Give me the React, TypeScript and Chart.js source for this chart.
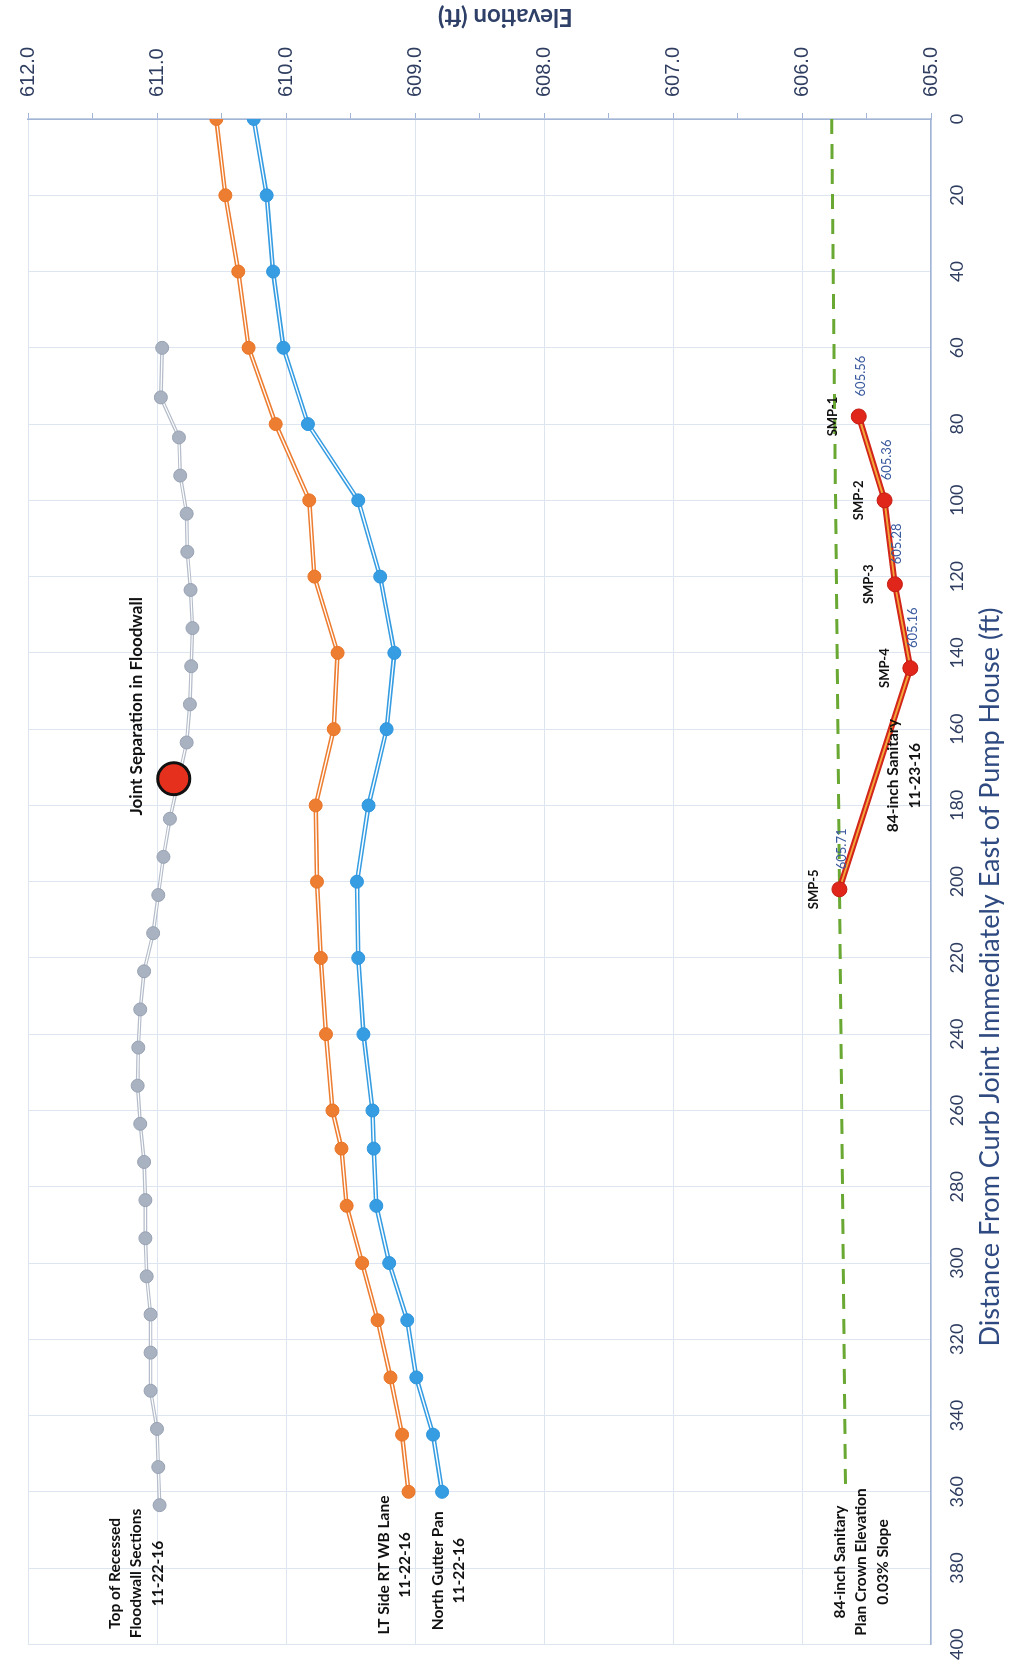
import React, { useEffect, useRef } from 'react';
import { Chart, registerables } from 'chart.js';

Chart.register(...registerables);

// ---------- data (distance in ft, elevation in ft) ----------
const DIST_MAIN = [0, 20, 40, 60, 80, 100, 120, 140, 160, 180, 200, 220, 240, 260, 270, 285, 300, 315, 330, 345, 360];
const LT_SIDE_RT_WB = [610.54, 610.47, 610.37, 610.29, 610.08, 609.82, 609.78, 609.6, 609.63, 609.77, 609.76, 609.73, 609.69, 609.64, 609.57, 609.53, 609.41, 609.29, 609.19, 609.1, 609.05];
const NORTH_GUTTER = [610.25, 610.15, 610.1, 610.02, 609.83, 609.44, 609.27, 609.16, 609.22, 609.36, 609.45, 609.44, 609.4, 609.33, 609.32, 609.3, 609.2, 609.06, 608.99, 608.86, 608.79];

const DIST_FLOODWALL = [60, 73, 83.5, 93.5, 103.5, 113.5, 123.5, 133.5, 143.5, 153.5, 163.5, 183.5, 193.5, 203.5, 213.5, 223.5, 233.5, 243.5, 253.5, 263.5, 273.5, 283.5, 293.5, 303.5, 313.5, 323.5, 333.5, 343.5, 353.5, 363.5];
const FLOODWALL_TOP = [610.96, 610.97, 610.83, 610.82, 610.77, 610.765, 610.74, 610.725, 610.735, 610.745, 610.77, 610.9, 610.95, 610.99, 611.03, 611.1, 611.13, 611.145, 611.15, 611.13, 611.1, 611.09, 611.09, 611.08, 611.05, 611.05, 611.05, 611.0, 610.99, 610.98];

const DIST_SMP = [78, 100, 122, 144, 202];
const SMP_ELEV = [605.56, 605.36, 605.28, 605.16, 605.71];
const SMP_NAMES = ['SMP-1', 'SMP-2', 'SMP-3', 'SMP-4', 'SMP-5'];

const DIST_PLAN = [0, 360];
const PLAN_CROWN = [605.77, 605.662];

const DIST_JOINT = [173];
const JOINT_ELEV = [610.87];

const X_TITLE = 'Distance From Curb Joint Immediately East of Pump House (ft)';
const Y_TITLE = 'Elevation (ft)';

// text annotations: anchor (distance, elevation) of the block centre
const ANNOTATIONS = [
  { d: 381.4, e: 611.16, size: 15.5, lines: ['Top of Recessed', 'Floodwall Sections', '11-22-16'] },
  { d: 379.2, e: 609.16, size: 15.5, lines: ['LT Side RT WB Lane', '11-22-16'] },
  { d: 380.7, e: 608.74, size: 15.5, lines: ['North Gutter Pan', '11-22-16'] },
  { d: 378.4, e: 605.54, size: 15.5, lines: ['84-inch Sanitary', 'Plan Crown Elevation', '0.03% Slope'] },
  { d: 154, e: 611.155, size: 17, lines: ['Joint Separation in Floodwall'] },
  { d: 172.2, e: 605.21, size: 15.5, lines: ['84-inch Sanitary', '11-23-16'] },
];

const W = 1675;
const H = 1016;

const pts = (xs: number[], ys: number[]) => xs.map((x, i) => ({ x, y: ys[i] }));

const lineSet = (data: any, color: string, width: number, order: number, dash: number[] = []) => ({
  data,
  showLine: true,
  borderColor: color,
  backgroundColor: color,
  borderWidth: width,
  borderDash: dash,
  pointRadius: 0,
  pointHoverRadius: 0,
  tension: 0,
  fill: false,
  order,
});

const pointSet = (data: any, fill: string, border: string, r: number, order: number, bw = 1) => ({
  data,
  showLine: false,
  pointRadius: r,
  pointHoverRadius: r,
  pointBackgroundColor: fill,
  pointBorderColor: border,
  pointBorderWidth: bw,
  backgroundColor: fill,
  borderColor: border,
  order,
});

const labelPlugin = {
  id: 'textLabels',
  afterDatasetsDraw(chart: any) {
    const { ctx, scales } = chart;
    const x = scales.x;
    const y = scales.y;
    ctx.save();
    // SMP names and values
    DIST_SMP.forEach((d, i) => {
      const px = x.getPixelForValue(d);
      const py = y.getPixelForValue(SMP_ELEV[i]);
      ctx.font = 'bold 13px Lato';
      ctx.fillStyle = '#111111';
      ctx.textAlign = 'center';
      ctx.textBaseline = 'middle';
      ctx.fillText(SMP_NAMES[i], px, py - 26);
      ctx.font = '13px Lato';
      ctx.fillStyle = '#3a5a9e';
      ctx.textAlign = 'left';
      ctx.fillText(SMP_ELEV[i].toFixed(2), px + 20, py + 2);
    });
    // annotations
    ANNOTATIONS.forEach((a) => {
      const cx = x.getPixelForValue(a.d);
      const cy = y.getPixelForValue(a.e);
      const n = a.lines.length;
      const lh = 21.5;
      ctx.font = `bold ${a.size}px Lato`;
      ctx.fillStyle = '#111111';
      ctx.textAlign = 'center';
      ctx.textBaseline = 'middle';
      a.lines.forEach((t, k) => ctx.fillText(t, cx, cy + (k - (n - 1) / 2) * lh));
    });
    // distance axis title
    ctx.font = '27px Lato';
    ctx.fillStyle = '#2f4a80';
    ctx.textAlign = 'center';
    ctx.textBaseline = 'middle';
    ctx.fillText(X_TITLE, x.getPixelForValue(225), 990);
    // elevation axis title (rotated like the original)
    ctx.translate(W - 17, y.getPixelForValue(608.3));
    ctx.rotate(-Math.PI / 2);
    ctx.font = 'bold 24px Lato';
    ctx.fillStyle = '#2f4068';
    ctx.fillText(Y_TITLE, 0, 0);
    ctx.restore();
  },
};

export default function App() {
  const ref = useRef<HTMLCanvasElement | null>(null);

  useEffect(() => {
    const canvas = ref.current;
    if (!canvas) return;

    const orange = '#ed7d31';
    const blue = '#379de2';
    const grey = '#b5bdca';

    const chart = new Chart(canvas, {
      type: 'scatter',
      data: {
        datasets: [
          pointSet(pts(DIST_JOINT, JOINT_ELEV), '#e6301e', '#111111', 16, 0, 3),
          pointSet(pts(DIST_MAIN, LT_SIDE_RT_WB), orange, '#e87426', 6.5, 1),
          pointSet(pts(DIST_MAIN, NORTH_GUTTER), blue, '#2f95dc', 6.5, 1),
          pointSet(pts(DIST_FLOODWALL, FLOODWALL_TOP), '#a9b2c0', '#98a2b3', 6.5, 1),
          pointSet(pts(DIST_SMP, SMP_ELEV), '#e0261b', '#c41c12', 7.5, 1),
          lineSet(pts(DIST_MAIN, LT_SIDE_RT_WB), '#ffffff', 1.4, 2),
          lineSet(pts(DIST_MAIN, NORTH_GUTTER), '#ffffff', 1.4, 2),
          lineSet(pts(DIST_FLOODWALL, FLOODWALL_TOP), '#ffffff', 1.2, 2),
          lineSet(pts(DIST_SMP, SMP_ELEV), '#f4a63a', 2, 2),
          lineSet(pts(DIST_MAIN, LT_SIDE_RT_WB), orange, 4.5, 3),
          lineSet(pts(DIST_MAIN, NORTH_GUTTER), blue, 4.5, 3),
          lineSet(pts(DIST_FLOODWALL, FLOODWALL_TOP), grey, 3.6, 3),
          lineSet(pts(DIST_SMP, SMP_ELEV), '#d2261a', 6, 3),
          lineSet(pts(DIST_PLAN, PLAN_CROWN), '#69a832', 3, 4, [15, 10]),
        ] as any,
      },
      options: {
        animation: false,
        responsive: false,
        maintainAspectRatio: false,
        devicePixelRatio: 1,
        events: [],
        layout: { padding: { left: 25, top: 16, right: 0, bottom: 0 } },
        plugins: {
          legend: { display: false },
          tooltip: { enabled: false },
        },
        scales: {
          x: {
            type: 'linear',
            position: 'bottom',
            min: 0,
            max: 400,
            reverse: true,
            afterFit: (s: any) => {
              s.height = 85;
            },
            grid: { color: '#dde5f1', lineWidth: 1, drawTicks: false },
            border: { color: '#a3b5d6', width: 1.5 },
            ticks: {
              stepSize: 20,
              padding: 15,
              autoSkip: false,
              maxRotation: 0,
              color: '#2e3d60',
              font: { family: 'Lato', size: 18 },
            },
            title: { display: false },
          },
          y: {
            type: 'linear',
            position: 'right',
            min: 605,
            max: 612,
            afterFit: (s: any) => {
              s.width = 119;
            },
            grid: {
              color: (c: any) => (c.tick && Number.isInteger(c.tick.value) ? '#dde5f1' : 'rgba(0,0,0,0)'),
              tickColor: '#a3b5d6',
              tickLength: 6,
              drawTicks: true,
            },
            border: { color: '#a3b5d6', width: 1.5 },
            ticks: {
              stepSize: 0.5,
              autoSkip: false,
              padding: 16,
              color: '#2e3d60',
              font: { family: '"Liberation Sans"', size: 20 },
              callback: (v: any) => (Number.isInteger(v) ? Number(v).toFixed(1) : ''),
            },
          },
        },
      } as any,
      plugins: [labelPlugin],
    });

    return () => chart.destroy();
  }, []);

  return (
    <div
      style={{
        position: 'absolute',
        left: 0,
        top: 0,
        width: H,
        height: W,
        overflow: 'hidden',
        background: '#ffffff',
      }}
    >
      <div
        style={{
          position: 'absolute',
          left: 0,
          top: 0,
          width: W,
          height: H,
          transformOrigin: '0 0',
          transform: `translateY(${W}px) rotate(-90deg)`,
        }}
      >
        <canvas ref={ref} width={W} height={H} style={{ display: 'block', width: W, height: H }} />
      </div>
    </div>
  );
}
